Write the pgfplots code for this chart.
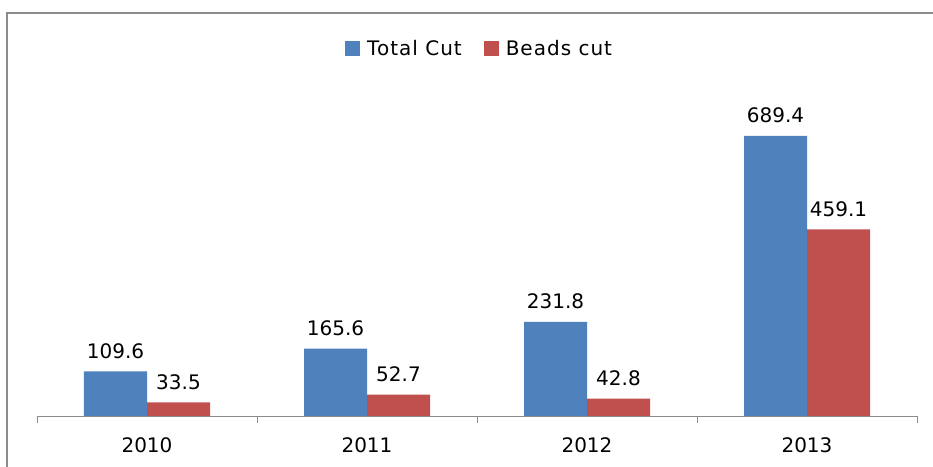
\documentclass[border=0pt]{standalone}
\usepackage{pgfplots}
\pgfplotsset{compat=1.18}
\usepackage{fontspec}
\setmainfont{DejaVu Sans}
\definecolor{xlblue}{HTML}{4F81BD}
\definecolor{xlred}{HTML}{C0504D}
\definecolor{framegray}{HTML}{8C8C8C}
\begin{document}
\begin{tikzpicture}
\path[use as bounding box] (0,0) rectangle (933bp,467bp);
\draw[color=framegray, line width=2bp] (7bp,0) -- (7bp,454bp) -- (933bp,454bp);
\begin{axis}[
  at={(37bp,51bp)}, anchor=south west,
  scale only axis, width=880bp, height=325bp,
  xmin=-0.5, xmax=3.5, ymin=0, ymax=800,
  axis x line*=bottom, axis y line=none,
  clip=false,
  /pgf/number format/assume math mode=true,
  xtick={0,1,2,3}, xticklabels={2010,2011,2012,2013},
  major tick length=0pt,
  minor xtick={-0.5,0.5,1.5,2.5,3.5}, minor tick length=7bp,
  tick align=outside,
  x axis line style={color=framegray, line width=0.8bp, -},
  minor tick style={color=framegray, line width=0.8bp},
  xticklabel style={font=\fontsize{20bp}{24bp}\selectfont, yshift=-18bp},
  ybar, bar width=63bp,
  nodes near coords={\pgfmathprintnumber[fixed,fixed zerofill,precision=1]{\pgfplotspointmeta}},
  every node near coord/.append style={font=\fontsize{20bp}{24bp}\selectfont, anchor=base, yshift=13bp, text=black},
  legend columns=2,
  legend style={at={(0.503,1.13)}, anchor=center, draw=none, fill=none,
    font=\fontsize{20bp}{24bp}\selectfont\addfontfeatures{LetterSpace=5},
    /tikz/every even column/.append style={column sep=20bp}},
  legend image code/.code={\fill[#1] (0bp,-7.5bp) rectangle (15bp,7.5bp); \path (20bp,0bp);},
]
\addplot[fill=xlblue, draw=none, bar shift=-31.5bp] coordinates {(0,109.6) (1,165.6) (2,231.8) (3,689.4)};
\addplot[fill=xlred, draw=none, bar shift=31.5bp] coordinates {(0,33.5) (1,52.7) (2,42.8) (3,459.1)};
\legend{Total Cut, Beads cut}
\end{axis}
\end{tikzpicture}
\end{document}
